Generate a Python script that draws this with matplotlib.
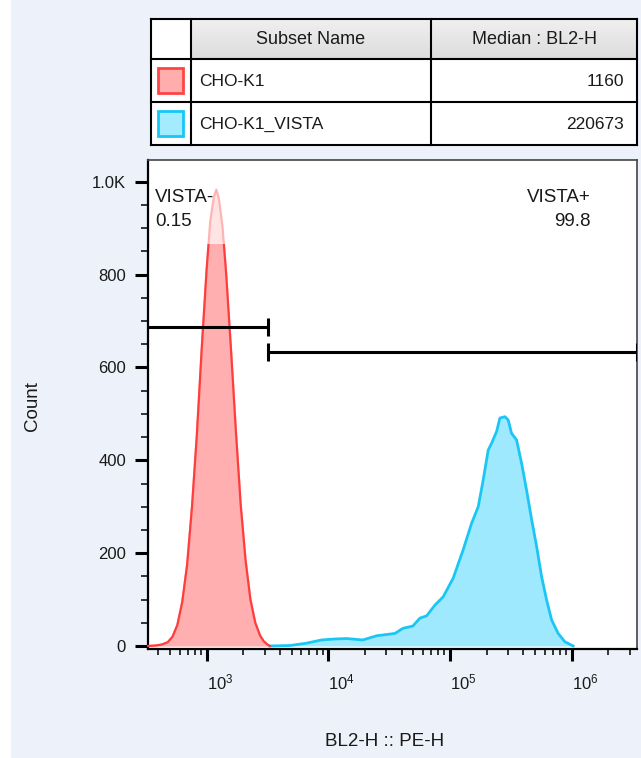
import numpy as np
import matplotlib
matplotlib.use('Agg')
import matplotlib.pyplot as plt
from matplotlib.patches import Rectangle
from matplotlib.ticker import FixedLocator, NullFormatter

plt.rcParams['font.family'] = ['Liberation Sans', 'DejaVu Sans']
plt.rcParams['mathtext.fontset'] = 'custom'
plt.rcParams['mathtext.rm'] = 'Liberation Sans'
plt.rcParams['mathtext.it'] = 'Liberation Sans'
plt.rcParams['mathtext.bf'] = 'Liberation Sans:bold'

# ---------------- data ----------------
table_header = ['Subset Name', 'Median : BL2-H']
subset_names = ['CHO-K1', 'CHO-K1_VISTA']
medians = ['1160', '220673']

cho_x = [331, 380, 427, 479, 525, 575, 631, 692, 759, 832, 912, 1000, 1072,
         1148, 1202, 1259, 1349, 1445, 1585, 1738, 1905, 2089, 2291, 2512,
         2754, 2951, 3162, 3311]
cho_count = [0, 1, 3, 8, 20, 45, 95, 175, 300, 455, 640, 810, 915,
             968, 983, 965, 905, 805, 640, 465, 305, 185, 100, 50,
             22, 10, 3, 0]

vista_x = [3311, 4831, 6607, 8810, 11220, 14125, 19231, 24946, 35237, 41020,
           49545, 56624, 64270, 75162, 87902, 106170, 128233, 150314, 170608,
           187499, 206063, 219786, 241546, 257040, 282488, 300608, 320627,
           352371, 387258, 425598, 468813, 515229, 566239, 622300, 683912,
           774462, 879023, 1028016]
vista_count = [0, 1, 6, 13, 15, 16, 13, 22, 27, 38,
               43, 60, 65, 88, 106, 146, 207, 264, 300,
               358, 422, 437, 462, 491, 494, 487, 458,
               444, 394, 336, 272, 214, 149, 99, 56,
               27, 9, 0]

gate_names = ['VISTA-', 'VISTA+']
gate_pct = ['0.15', '99.8']
gate_neg_range = [200, 3200]
gate_pos_range = [3200, 3.44e6]
gate_neg_y = 687
gate_pos_y = 633

y_ticks = [0, 200, 400, 600, 800, 1000]
y_ticklabels = ['0', '200', '400', '600', '800', '1.0K']
x_ticks = [1e3, 1e4, 1e5, 1e6]
x_ticklabels = [r'$10^{3}$', r'$10^{4}$', r'$10^{5}$', r'$10^{6}$']
x_label = 'BL2-H :: PE-H'
y_label = 'Count'

# ---------------- figure ----------------
W, H = 641, 758
BG = '#edf1f9'
TXT = '#1a1a1a'
fig = plt.figure(figsize=(W / 100, H / 100), dpi=100)
fig.patch.set_facecolor(BG)
fig.add_artist(Rectangle((0, 0), 11 / W, 1, transform=fig.transFigure,
                         facecolor='white', edgecolor='none', zorder=0))

L, R, T, B = 148, 637, 160, 649
ax = fig.add_axes([L / W, 1 - B / H, (R - L) / W, (B - T) / H])
ax.set_facecolor('white')
ax.set_xscale('log')
ax.set_xlim(330, 3.44e6)
ax.set_ylim(-6.5, 1047)

# CHO-K1 histogram (peak tip drawn paler)
cap = 865
ax.fill_between(cho_x, cho_count, color='#ffe4e4', lw=0, zorder=2)
ax.plot(cho_x, cho_count, color='#ffb4b4', lw=1.6, zorder=3)
f = ax.fill_between(cho_x, cho_count, color='#ffafaf', lw=0, zorder=2.5)
ln, = ax.plot(cho_x, cho_count, color='#ff3d3d', lw=1.6, zorder=3.5)
clip = Rectangle((1, -100), 1e8, cap + 100, transform=ax.transData)
f.set_clip_path(clip)
ln.set_clip_path(clip)

# CHO-K1_VISTA histogram
ax.fill_between(vista_x, vista_count, color='#9fe9fe', lw=0, zorder=2)
ax.plot(vista_x, vista_count, color='#1cc6f4', lw=2.0, zorder=3)

# gates
glw = 2.2
ax.plot(gate_neg_range, [gate_neg_y] * 2, color='black', lw=glw, zorder=5,
        solid_capstyle='butt')
ax.plot([gate_neg_range[1]] * 2, [gate_neg_y - 20, gate_neg_y + 20],
        color='black', lw=glw, zorder=5, solid_capstyle='butt')
ax.plot(gate_pos_range, [gate_pos_y] * 2, color='black', lw=glw, zorder=5,
        solid_capstyle='butt')
for gx in gate_pos_range:
    ax.plot([gx] * 2, [gate_pos_y - 20, gate_pos_y + 20], color='black',
            lw=glw, zorder=5, solid_capstyle='butt')

gfs = 13.5
ax.text((155 - L) / (R - L), (B - 197) / (B - T), gate_names[0],
        transform=ax.transAxes, ha='left', va='center', fontsize=gfs,
        color=TXT, zorder=6)
ax.text((155 - L) / (R - L), (B - 222) / (B - T), gate_pct[0],
        transform=ax.transAxes, ha='left', va='center', fontsize=gfs,
        color=TXT, zorder=6)
ax.text((591 - L) / (R - L), (B - 197) / (B - T), gate_names[1],
        transform=ax.transAxes, ha='right', va='center', fontsize=gfs,
        color=TXT, zorder=6)
ax.text((591 - L) / (R - L), (B - 222) / (B - T), gate_pct[1],
        transform=ax.transAxes, ha='right', va='center', fontsize=gfs,
        color=TXT, zorder=6)

# axes styling
for s in ['left', 'bottom']:
    ax.spines[s].set_linewidth(1.6)
    ax.spines[s].set_color('black')
for s in ['top', 'right']:
    ax.spines[s].set_linewidth(1.2)
    ax.spines[s].set_color('#444444')

ax.yaxis.set_major_locator(FixedLocator(y_ticks))
ax.set_yticklabels(y_ticklabels)
ax.yaxis.set_minor_locator(FixedLocator([v for v in range(50, 1001, 50)
                                         if v % 200 != 0]))
ax.xaxis.set_major_locator(FixedLocator(x_ticks))
minors = []
for dec in [1e2, 1e3, 1e4, 1e5, 1e6]:
    for m in range(2, 10):
        v = m * dec
        if 330 <= v <= 3.44e6:
            minors.append(v)
ax.xaxis.set_minor_locator(FixedLocator(minors))
ax.xaxis.set_minor_formatter(NullFormatter())
ax.set_xticklabels(x_ticklabels, ha='left')

ax.tick_params(axis='y', which='major', direction='out', length=9.4,
               width=2.2, pad=6.5, labelsize=12, labelcolor=TXT)
ax.tick_params(axis='y', which='minor', direction='out', length=4.8,
               width=1.1)
ax.tick_params(axis='x', which='major', direction='out', length=8.6,
               width=2.2, pad=8, labelsize=12, labelcolor=TXT)
ax.tick_params(axis='x', which='minor', direction='out', length=4.3,
               width=1.1)

fig.text(32 / W, 1 - 406 / H, y_label, rotation=90, ha='center',
         va='center', fontsize=13.5, color=TXT)
fig.text(385 / W, 1 - 742 / H, x_label, ha='center', va='center',
         fontsize=13.5, color=TXT)

# ---------------- table ----------------
tab = fig.add_axes([0, 0, 1, 1], zorder=10)
tab.set_xlim(0, W)
tab.set_ylim(H, 0)
tab.axis('off')
tab.patch.set_alpha(0)

cols = [151, 191, 431, 637]
rows = [19, 59, 101.5, 145]
tab.add_patch(Rectangle((cols[0], rows[0]), cols[3] - cols[0],
                        rows[3] - rows[0], facecolor='white',
                        edgecolor='none'))
grad = np.linspace(0, 1, 50).reshape(-1, 1)
tab.imshow(grad, extent=[cols[1], cols[3], rows[1], rows[0]],
           cmap=matplotlib.colors.LinearSegmentedColormap.from_list(
               'g', ['#f0f0f0', '#dcdcdc']), aspect='auto', zorder=1,
           interpolation='bilinear')
tab.set_xlim(0, W)
tab.set_ylim(H, 0)
for c in cols:
    tab.plot([c, c], [rows[0], rows[3]], color='black', lw=1.5, zorder=3,
             solid_capstyle='projecting')
for r in rows:
    tab.plot([cols[0], cols[3]], [r, r], color='black', lw=1.5, zorder=3,
             solid_capstyle='projecting')

tab.text((cols[1] + cols[2]) / 2, (rows[0] + rows[1]) / 2 + 1,
         table_header[0], ha='center', va='center', fontsize=13, color=TXT,
         zorder=4)
tab.text((cols[2] + cols[3]) / 2, (rows[0] + rows[1]) / 2 + 1,
         table_header[1], ha='center', va='center', fontsize=13, color=TXT,
         zorder=4)

sw_face = ['#ffadad', '#a3ecff']
sw_edge = ['#ff4444', '#14c8f5']
for i in range(2):
    yc = (rows[i + 1] + rows[i + 2]) / 2
    tab.add_patch(Rectangle((157.5, yc - 12.5), 25, 25, facecolor=sw_face[i],
                            edgecolor=sw_edge[i], lw=2.0, zorder=4))
    tab.text(199, yc + 1, subset_names[i], ha='left', va='center',
             fontsize=12.5, color=TXT, zorder=4)
    tab.text(624, yc + 1, medians[i], ha='right', va='center', fontsize=12.5,
             color=TXT, zorder=4)

fig.savefig('out.png', dpi=100, facecolor=fig.get_facecolor())
